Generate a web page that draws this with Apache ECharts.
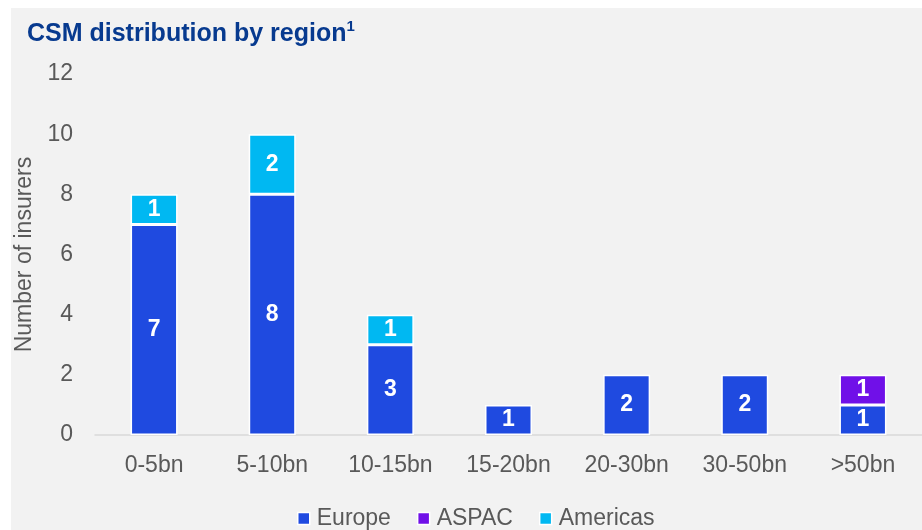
<!DOCTYPE html>
<html><head><meta charset="utf-8">
<script src="https://cdn.jsdelivr.net/npm/echarts@6/dist/echarts.min.js"></script>
<style>html,body{margin:0;padding:0;background:#fff;}#c{width:922px;height:530px;}</style>
</head><body><div id="c"></div>
<script>
const categories = ['0-5bn','5-10bn','10-15bn','15-20bn','20-30bn','30-50bn','>50bn'];
const europe = [7,8,3,1,2,2,1];
const aspac = [0,0,0,0,0,0,1];
const americas = [1,2,1,0,0,0,0];
const yTicks = {min:0, max:12, interval:2};
const seriesNames = ['Europe','ASPAC','Americas'];
const colors = ['#1F4AE0','#7010E8','#00B8F2'];
const FF = 'Liberation Sans, Arial';

const chart = echarts.init(document.getElementById('c'), null, {renderer:'canvas'});
function mk(name, data, color){
  return {
    name, type:'bar', stack:'a', barWidth:47,
    data: data.map(v => v === 0 ? null : v),
    itemStyle:{color, borderColor:'#ffffff', borderWidth:1.5},
    label:{show:true, position:'inside', color:'#fff', fontWeight:'bold', fontSize:23, fontFamily:FF},
    emphasis:{disabled:true}
  };
}
chart.setOption({
  backgroundColor:'#ffffff',
  animation:false,
  graphic:[{type:'rect', left:11, top:8, shape:{width:911, height:522}, style:{fill:'#f2f2f2'}, z:-10}],
  title:{text:'{m|CSM distribution by region}{s|1}', left:22, top:14,
    textStyle:{color:'#073A8F', fontSize:25, fontWeight:'bold', fontFamily:FF,
      rich:{
        m:{color:'#073A8F', fontSize:25, fontWeight:'bold', fontFamily:FF, lineHeight:30},
        s:{color:'#073A8F', fontSize:15, fontWeight:'bold', fontFamily:FF, verticalAlign:'top', lineHeight:30}
      }}},
  legend:{data:seriesNames, left:292, top:502, itemWidth:12, itemHeight:12, itemGap:26,
    icon:'rect',
    itemStyle:{borderColor:'#ffffff', borderWidth:1.5},
    textStyle:{color:'#595959', fontSize:23, fontFamily:FF, padding:[0,0,0,2]}},
  grid:{left:95, right:-13, top:74, bottom:95},
  xAxis:{type:'category', data:categories,
    axisLine:{lineStyle:{color:'#d9d9d9', width:1.5}},
    axisTick:{show:false},
    axisLabel:{color:'#595959', fontSize:23, margin:19, fontFamily:FF}},
  yAxis:{type:'value', min:yTicks.min, max:yTicks.max, interval:yTicks.interval,
    name:'Number of insurers', nameLocation:'middle', nameRotate:90, nameGap:54,
    nameTextStyle:{color:'#595959', fontSize:23, fontFamily:FF},
    axisLine:{show:false}, axisTick:{show:false}, splitLine:{show:false},
    axisLabel:{color:'#595959', fontSize:23, margin:22, fontFamily:FF}},
  series:[mk('Europe', europe, colors[0]), mk('ASPAC', aspac, colors[1]), mk('Americas', americas, colors[2])]
});
</script></body></html>
